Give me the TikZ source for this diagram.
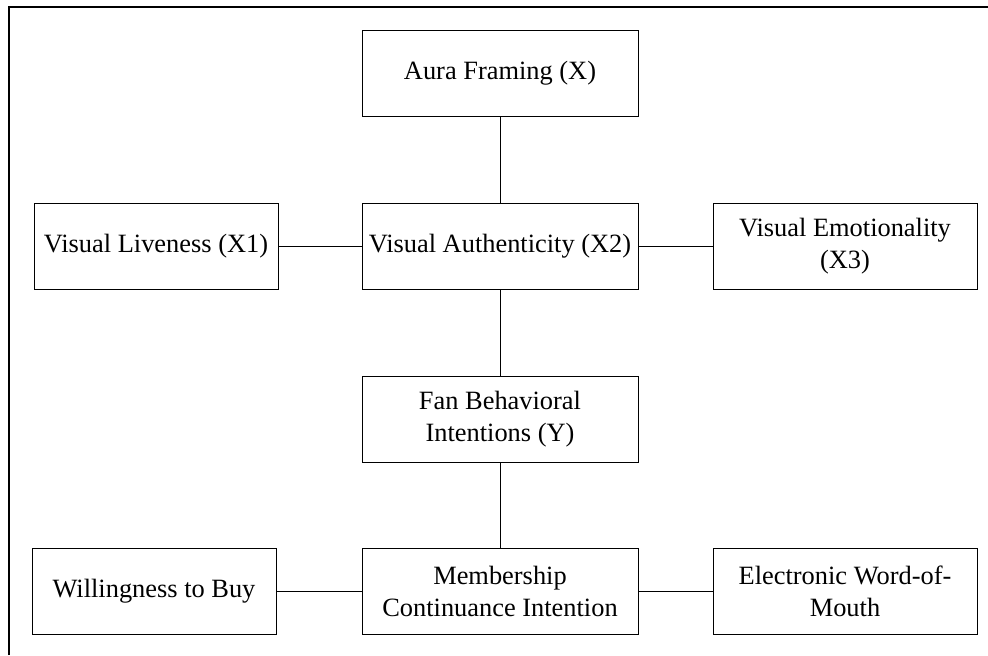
\documentclass[tikz,border=0pt]{standalone}
\usepackage{fontspec}
\setmainfont{Liberation Serif}
\usepackage{tikz}
\usetikzlibrary{positioning, calc}
\tikzset{font=\fontsize{13.2}{16}\selectfont, line width=1.3pt}
\tikzset{factor/.style={shape=rectangle, draw, fill=white, align=center,
    inner sep=1mm, minimum height=43pt}}
\tikzset{wide/.style={factor, minimum width=138pt}}
\tikzset{side/.style={factor, minimum width=122pt}}

\begin{document}
\begin{tikzpicture}[x=.5pt,y=-.5pt]
    \useasboundingbox (0,0) rectangle (988,655);
    \draw[line width=1.4pt] (9,655) -- (9,7) -- (988,7);
    \node[wide] (aura) at (500,73) {Aura Framing (X)};
    \node[side] (live) at (156,246) {Visual Liveness (X1)};
    \node[wide] (auth) at (500,246) {Visual Authenticity (X2)};
    \node[factor, minimum width=132pt] (emot) at (845,246) {Visual Emotionality\\(X3)};
    \node[wide] (fan) at (500,419) {Fan Behavioral\\Intentions (Y)};
    \node[side] (buy) at (154,591) {Willingness to Buy};
    \node[wide] (memb) at (500,591) {Membership\\Continuance Intention};
    \node[factor, minimum width=132pt] (ewom) at (845,591) {Electronic Word-of-\\Mouth};
    \draw (aura) -- (auth);
    \draw (live) -- (auth);
    \draw (auth) -- (emot);
    \draw (auth) -- (fan);
    \draw (fan) -- (memb);
    \draw (buy) -- (memb);
    \draw (memb) -- (ewom);
  \end{tikzpicture}
\end{document}
